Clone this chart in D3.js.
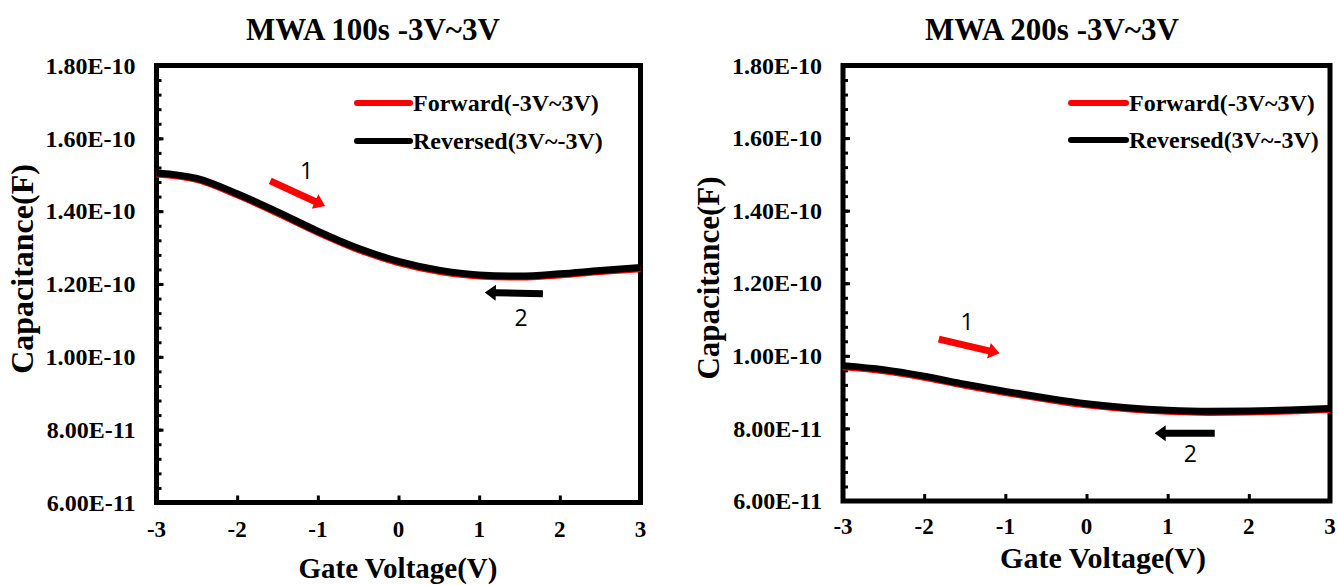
<!DOCTYPE html>
<html>
<head>
<meta charset="utf-8">
<script src="https://cdn.jsdelivr.net/npm/d3@7"></script>
<style>
  html, body { margin: 0; padding: 0; background: #fff; }
  svg { display: block; }
  text { font-family: "Liberation Serif", "Times New Roman", serif; font-weight: bold; fill: #000; }
  .note { font-family: "Open Sans", "Liberation Sans", sans-serif; font-weight: normal; }
</style>
</head>
<body>
<svg id="chart" width="1337" height="585"></svg>
<script>
// Gate voltage sweep points (V)
const volts = [-3, -2.5, -2, -1.5, -1, -0.5, 0, 0.5, 1, 1.5, 2, 2.5, 3];

// MWA 100 s capacitance (F)
const cap100Forward  = [1.502e-10, 1.487e-10, 1.445e-10, 1.395e-10, 1.342e-10, 1.295e-10, 1.259e-10, 1.235e-10, 1.222e-10, 1.219e-10, 1.225e-10, 1.234e-10, 1.242e-10];
const cap100Reversed = [1.505e-10, 1.490e-10, 1.448e-10, 1.398e-10, 1.345e-10, 1.298e-10, 1.262e-10, 1.238e-10, 1.225e-10, 1.222e-10, 1.228e-10, 1.237e-10, 1.245e-10];

// MWA 200 s capacitance (F)
const cap200Forward  = [9.70e-11, 9.59e-11, 9.41e-11, 9.19e-11, 8.99e-11, 8.81e-11, 8.65e-11, 8.54e-11, 8.47e-11, 8.44e-11, 8.45e-11, 8.48e-11, 8.52e-11];
const cap200Reversed = [9.73e-11, 9.62e-11, 9.44e-11, 9.22e-11, 9.02e-11, 8.84e-11, 8.68e-11, 8.57e-11, 8.50e-11, 8.47e-11, 8.48e-11, 8.51e-11, 8.55e-11];

// Axis ticks and labels
const xTicks = [-3, -2, -1, 0, 1, 2, 3];
const xTickLabels = ["-3", "-2", "-1", "0", "1", "2", "3"];
const yTicks = [6e-11, 8e-11, 1e-10, 1.2e-10, 1.4e-10, 1.6e-10, 1.8e-10];
const yTickLabels = ["6.00E-11", "8.00E-11", "1.00E-10", "1.20E-10", "1.40E-10", "1.60E-10", "1.80E-10"];
const yMinorStep = 4e-12;

const seriesNames = ["Forward(-3V~3V)", "Reversed(3V~-3V)"];
const seriesColors = ["#ff0000", "#000000"];

const panels = [
  {
    title: "MWA 100s -3V~3V",
    forward: cap100Forward, reversed: cap100Reversed,
    box: { left: 156.5, right: 640.5, top: 65.5, bottom: 502.5 },
    titleX: 373, titleY: 40,
    yTitleX: 33, yTitleY: 269, yTitleSize: 32,
    xTitleX: 398, xTitleY: 578, xTitleSize: 29,
    xLabelY: 537,
    legend: { x1: 357, x2: 410, y: 103, dy: 38 },
    arrow1: { from: [-1.59, 1.483e-10], to: [-0.91, 1.414e-10], label: [-1.14, 1.488e-10] },
    arrow2: { from: [1.79, 1.173e-10], to: [1.07, 1.177e-10], label: [1.52, 1.085e-10] }
  },
  {
    title: "MWA 200s -3V~3V",
    forward: cap200Forward, reversed: cap200Reversed,
    box: { left: 843, right: 1330, top: 65.5, bottom: 501 },
    titleX: 1052, titleY: 40,
    yTitleX: 719, yTitleY: 278, yTitleSize: 31,
    xTitleX: 1103, xTitleY: 568, xTitleSize: 30,
    xLabelY: 534,
    legend: { x1: 1071, x2: 1126, y: 103, dy: 37 },
    arrow1: { from: [-1.82, 1.046e-10], to: [-1.07, 1.007e-10], label: [-1.47, 1.070e-10] },
    arrow2: { from: [1.58, 0.787e-10], to: [0.84, 0.787e-10], label: [1.28, 0.708e-10] }
  }
];

const svg = d3.select("#chart");

// Block arrow (shaft + filled head) from p0 to p1 in pixel space
function blockArrow(p0, p1, shaft, headW, headL) {
  const dx = p1[0] - p0[0], dy = p1[1] - p0[1];
  const len = Math.hypot(dx, dy);
  const ux = dx / len, uy = dy / len, nx = -uy, ny = ux;
  const b = [p1[0] - ux * headL, p1[1] - uy * headL];
  const pts = [
    [p0[0] + nx * shaft / 2, p0[1] + ny * shaft / 2],
    [b[0] + nx * shaft / 2, b[1] + ny * shaft / 2],
    [b[0] + nx * headW / 2, b[1] + ny * headW / 2],
    p1,
    [b[0] - nx * headW / 2, b[1] - ny * headW / 2],
    [b[0] - nx * shaft / 2, b[1] - ny * shaft / 2],
    [p0[0] - nx * shaft / 2, p0[1] - ny * shaft / 2]
  ];
  return "M" + pts.map(p => p.join(",")).join("L") + "Z";
}

panels.forEach(p => {
  const b = p.box;
  const x = d3.scaleLinear().domain([-3, 3]).range([b.left, b.right]);
  const y = d3.scaleLinear().domain([6e-11, 1.8e-10]).range([b.bottom, b.top]);
  const g = svg.append("g");

  // Title
  g.append("text").attr("x", p.titleX).attr("y", p.titleY)
    .attr("text-anchor", "middle").style("font-size", "31px").text(p.title);

  // Minor y ticks (inward)
  const minor = d3.range(6e-11, 1.8e-10 + 1e-13, yMinorStep);
  g.append("g").attr("transform", `translate(${b.left},0)`)
    .call(d3.axisRight(y).tickValues(minor).tickSize(5).tickFormat(""))
    .call(a => a.select(".domain").remove())
    .call(a => a.selectAll("line").attr("stroke", "#000").attr("stroke-width", 3));

  // Major y ticks (inward) and labels
  g.append("g").attr("transform", `translate(${b.left},0)`)
    .call(d3.axisRight(y).tickValues(yTicks).tickSize(7).tickFormat(""))
    .call(a => a.select(".domain").remove())
    .call(a => a.selectAll("line").attr("stroke", "#000").attr("stroke-width", 3));
  g.append("g").attr("transform", `translate(${b.left},0)`)
    .call(d3.axisLeft(y).tickValues(yTicks).tickSize(0).tickPadding(21)
      .tickFormat((d, i) => yTickLabels[i]))
    .call(a => a.select(".domain").remove())
    .call(a => a.selectAll("text").attr("fill", "#000").style("font-size", "24px")
      .style("font-family", "'Liberation Serif', serif").style("font-weight", "bold"));

  // x ticks (inward) and labels
  g.append("g").attr("transform", `translate(0,${b.bottom})`)
    .call(d3.axisTop(x).tickValues(xTicks).tickSize(7).tickFormat(""))
    .call(a => a.select(".domain").remove())
    .call(a => a.selectAll("line").attr("stroke", "#000").attr("stroke-width", 3));
  g.append("g").selectAll("text").data(xTicks).join("text")
    .attr("x", d => x(d)).attr("y", p.xLabelY).attr("text-anchor", "middle")
    .style("font-size", "23px").text((d, i) => xTickLabels[i]);

  // Frame
  g.append("rect").attr("x", b.left).attr("y", b.top)
    .attr("width", b.right - b.left).attr("height", b.bottom - b.top)
    .attr("fill", "none").attr("stroke", "#000").attr("stroke-width", 5);

  // Axis titles
  g.append("text").attr("x", p.xTitleX).attr("y", p.xTitleY)
    .attr("text-anchor", "middle").style("font-size", p.xTitleSize + "px").text("Gate Voltage(V)");
  g.append("text")
    .attr("transform", `translate(${p.yTitleX},${p.yTitleY}) rotate(-90)`)
    .attr("text-anchor", "middle").style("font-size", p.yTitleSize + "px").text("Capacitance(F)");

  // Curves
  const line = d3.line().x((d, i) => x(volts[i])).y(d => y(d)).curve(d3.curveMonotoneX);
  g.append("path").datum(p.forward).attr("d", line)
    .attr("fill", "none").attr("stroke", seriesColors[0]).attr("stroke-width", 7);
  g.append("path").datum(p.reversed).attr("d", line)
    .attr("fill", "none").attr("stroke", seriesColors[1]).attr("stroke-width", 7);

  // Legend
  const L = p.legend;
  seriesNames.forEach((name, i) => {
    const ly = L.y + i * L.dy;
    g.append("line").attr("x1", L.x1).attr("x2", L.x2).attr("y1", ly).attr("y2", ly)
      .attr("stroke", seriesColors[i]).attr("stroke-width", 6).attr("stroke-linecap", "round");
    g.append("text").attr("x", L.x2 + 3).attr("y", ly + 8)
      .style("font-size", "24px").text(name);
  });

  // Sweep direction arrows
  const A1 = p.arrow1, A2 = p.arrow2;
  g.append("path")
    .attr("d", blockArrow([x(A1.from[0]), y(A1.from[1])], [x(A1.to[0]), y(A1.to[1])], 7, 16, 11))
    .attr("fill", "#ff0000");
  g.append("text").attr("class", "note").attr("x", x(A1.label[0])).attr("y", y(A1.label[1]))
    .attr("text-anchor", "middle").style("font-size", "23px").text("1");
  g.append("path")
    .attr("d", blockArrow([x(A2.from[0]), y(A2.from[1])], [x(A2.to[0]), y(A2.to[1])], 7, 16, 11))
    .attr("fill", "#000");
  g.append("text").attr("class", "note").attr("x", x(A2.label[0])).attr("y", y(A2.label[1]))
    .attr("text-anchor", "middle").style("font-size", "23px").text("2");
});
</script>
</body>
</html>
